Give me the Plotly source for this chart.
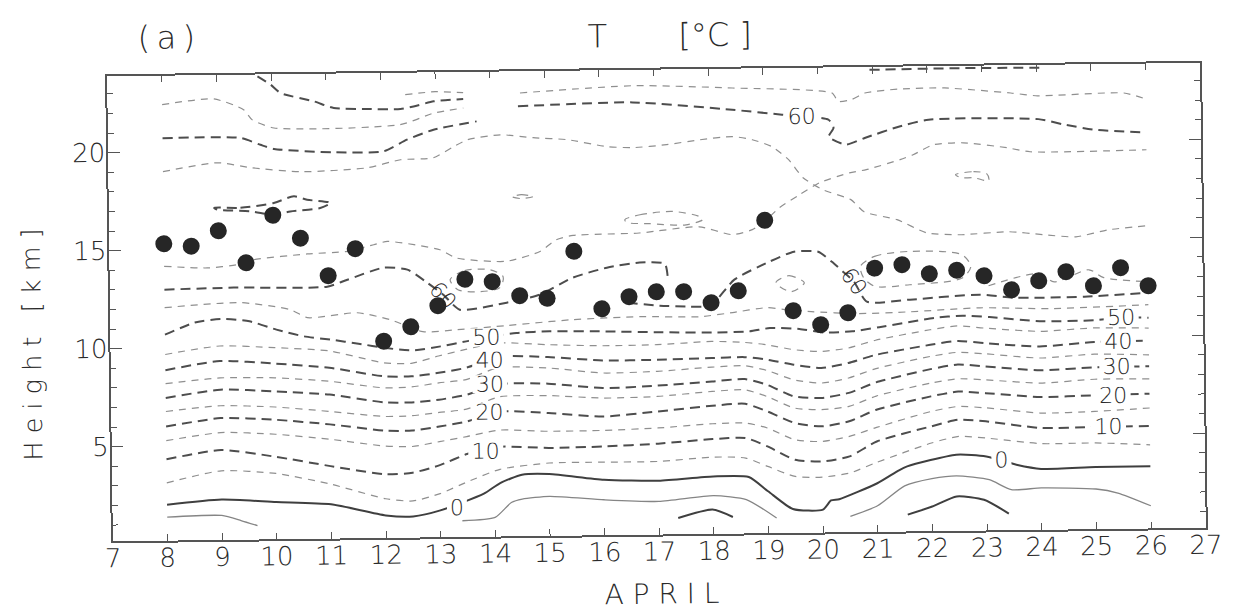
import plotly.graph_objects as go

# ---------------- tropopause heights (km), soundings twice a day ----------------
tp_day = [8, 8.5, 9, 9.5, 10, 10.5, 11, 11.5, 12, 12.5, 13, 13.5, 14, 14.5, 15, 15.5,
          16, 16.5, 17, 17.5, 18, 18.5, 19, 19.5, 20, 20.5, 21, 21.5, 22, 22.5, 23,
          23.5, 24, 24.5, 25, 25.5, 26]
tp_height = [15.32, 15.18, 15.95, 14.30, 16.71, 15.52, 13.59, 14.95, 10.21, 10.93,
             11.99, 13.32, 13.18, 12.45, 12.30, 14.68, 11.73, 12.33, 12.56, 12.55,
             11.97, 12.56, 16.14, 11.51, 10.78, 11.37, 13.63, 13.79, 13.31, 13.47,
             13.17, 12.44, 12.88, 13.33, 12.59, 13.50, 12.56]

# ---------------- isotherm heights (km) on common days, -5 .. -45 C ----------------
t_days = [8, 9, 10, 11, 12, 12.5, 13, 13.5, 14.1, 15, 16, 17, 18, 18.6, 19, 19.5,
          20, 20.5, 21, 22, 22.5, 23, 24, 25, 26]
iso_m05 = [3.12, 3.70, 3.53, 2.95, 2.17, 2.04, 2.40, 2.98, 3.60, 3.89, 3.90, 3.90, 4.09,
           4.02, 3.58, 3.05, 3.00, 3.19, 3.72, 4.67, 4.99, 4.89, 4.57, 4.57, 4.44]
iso_m10 = [4.32, 4.76, 4.38, 3.87, 3.42, 3.48, 3.85, 4.40, 4.75, 4.66, 4.70, 4.81, 5.01,
           5.04, 4.60, 3.90, 3.80, 4.04, 4.78, 5.52, 5.84, 5.74, 5.37, 5.39, 5.40]
iso_m15 = [5.27, 5.65, 5.53, 5.24, 4.86, 4.82, 5.05, 5.29, 5.60, 5.51, 5.52, 5.61, 5.79,
           5.81, 5.54, 4.92, 4.82, 5.06, 5.50, 6.28, 6.52, 6.43, 6.13, 6.18, 6.32]
iso_m20 = [5.99, 6.39, 6.27, 6.00, 5.65, 5.63, 5.82, 6.06, 6.55, 6.44, 6.23, 6.45, 6.71,
           6.79, 6.39, 5.78, 5.59, 5.83, 6.40, 7.05, 7.28, 7.18, 6.95, 7.00, 7.05]
iso_m25 = [6.76, 7.02, 6.92, 6.66, 6.37, 6.39, 6.54, 6.69, 7.30, 7.33, 7.17, 7.22, 7.44,
           7.50, 7.15, 6.54, 6.44, 6.59, 7.10, 7.73, 7.93, 7.86, 7.66, 7.82, 7.81]
iso_m30 = [7.45, 7.84, 7.72, 7.52, 7.09, 7.07, 7.19, 7.42, 7.95, 7.94, 7.68, 7.77, 7.95,
           8.05, 7.75, 7.13, 7.04, 7.28, 7.80, 8.44, 8.66, 8.54, 8.31, 8.43, 8.45]
iso_m35 = [8.18, 8.44, 8.41, 8.20, 7.83, 7.86, 8.05, 8.20, 8.80, 8.74, 8.45, 8.50, 8.68,
           8.73, 8.48, 7.98, 7.80, 8.04, 8.50, 9.09, 9.28, 9.19, 8.94, 9.10, 9.03]
iso_m40 = [8.87, 9.30, 9.14, 8.89, 8.42, 8.40, 8.56, 8.80, 9.35, 9.30, 9.09, 9.09, 9.14,
           9.17, 9.03, 8.75, 8.57, 8.81, 9.20, 9.68, 9.86, 9.73, 9.53, 9.72, 9.75]
iso_m45 = [9.67, 10.07, 9.95, 9.75, 9.11, 9.06, 9.42, 9.74, 10.05, 9.93, 9.84, 9.86, 9.99,
           9.92, 9.79, 9.52, 9.41, 9.57, 9.95, 10.45, 10.63, 10.50, 10.30, 10.44, 10.40]

# ---------------- 0 C and positive isotherms ----------------
iso_0_day = [8, 9, 10, 11, 12, 12.5, 13, 13.8, 14.1, 14.5, 15, 16, 17, 18, 18.65, 19,
             19.45, 20, 20.15, 20.3, 21, 21.4, 21.55, 22.45, 23, 23.55, 24, 25, 26]
iso_0_h = [2.00, 2.23, 2.07, 1.92, 1.32, 1.25, 1.54, 2.37, 2.90, 3.31, 3.33, 3.00, 2.92,
           3.10, 3.05, 2.31, 1.39, 1.34, 1.80, 1.86, 2.65, 3.30, 3.49, 4.06, 3.95, 3.51,
           3.28, 3.34, 3.34]
p05_a_day = [8, 9, 9.35, 9.65]
p05_a_h = [1.37, 1.42, 1.15, 0.88]
p05_b_day = [13.4, 14.0, 14.3, 14.5, 15, 16, 17, 18, 18.6, 19.15]
p05_b_h = [1.00, 1.15, 1.90, 2.07, 2.19, 1.98, 1.86, 2.12, 1.90, 0.94]
p05_c_day = [20.5, 21, 21.5, 22, 22.45, 23.05, 23.45, 24, 25, 25.4, 26]
p05_c_h = [0.98, 1.50, 2.50, 2.85, 2.98, 2.76, 2.24, 2.31, 2.22, 2.00, 1.33]
p10_a_day = [17.35, 17.98, 18.35]
p10_a_h = [1.00, 1.41, 1.02]
p10_b_day = [21.55, 22, 22.45, 22.95, 23.4]
p10_b_h = [1.03, 1.43, 1.93, 1.74, 1.02]

# ---------------- upper troposphere / tropopause region ----------------
m50_day = [8.0, 8.55, 9.04, 9.55, 10.04, 10.54, 11.04, 11.54, 12.04, 12.54, 13.04, 13.51,
           13.82, 14.43, 15.04, 16.06, 17.07, 18.08, 18.69, 19.07, 19.61, 20.06, 20.58,
           21.07, 22.08, 22.6, 23.09, 24.06, 25.0, 25.5, 26.0]
m50_h = [10.68, 11.28, 11.45, 11.31, 10.87, 10.51, 10.32, 10.10, 9.86, 9.72, 9.91, 10.15,
         10.31, 10.55, 10.61, 10.57, 10.49, 10.45, 10.48, 10.64, 10.57, 10.38, 10.42,
         10.61, 11.05, 11.15, 11.06, 10.81, 10.83, 10.94, 10.93]
m55_day = [8.0, 9.39, 10.30, 10.61, 11.52, 12.13, 12.72, 13.35, 14.26, 15.46, 16.69,
           17.78, 18.39, 19.01, 19.39, 19.83, 20.67, 21.64, 22.92, 24.19, 26.0]
m55_h = [12.06, 12.27, 11.88, 11.46, 11.68, 11.30, 10.67, 10.75, 10.93, 11.19, 11.30,
         11.26, 11.45, 11.68, 11.56, 11.45, 11.32, 11.38, 11.54, 11.45, 11.59]
m60a_day = [8.0, 9.27, 10.98, 11.35, 12.01, 12.45, 12.81, 13.10, 13.40, 14.26, 14.87,
            15.47, 16.10, 16.70, 17.16, 17.21]
m60a_h = [12.98, 13.04, 13.03, 13.37, 13.96, 13.85, 13.17, 12.55, 11.77, 12.10, 12.49,
          13.33, 13.82, 14.06, 13.99, 13.37]
m60b_day = [16.47, 17.06, 17.61, 17.99, 18.43, 19.07, 19.53, 19.97, 20.22, 20.42, 20.62,
            20.85, 21.64, 22.92, 23.55, 24.83, 26.0]
m60b_h = [12.02, 11.85, 11.78, 11.82, 13.13, 14.02, 14.52, 14.50, 13.98, 13.47, 12.95,
          11.92, 12.00, 12.21, 12.03, 12.04, 12.20]
m65a_day = [8.0, 8.79, 9.35, 9.64, 10.62, 11.35, 11.84, 12.09, 13.05, 13.35, 14.26, 14.88,
            15.18, 15.49, 16.70, 17.80, 18.40, 18.77, 19.03, 19.27, 19.64, 20.01, 20.56,
            20.87, 21.49, 21.73, 22.10, 22.65, 23.45, 23.87, 26.0]
m65a_h = [14.17, 14.06, 14.21, 14.45, 14.71, 14.82, 15.14, 15.30, 14.84, 14.41, 14.21,
          14.69, 15.28, 15.49, 15.57, 15.85, 15.43, 15.67, 16.17, 16.77, 17.42, 18.02,
          18.51, 18.66, 19.15, 19.39, 19.89, 19.97, 19.69, 19.47, 19.50]
m65b_day = [8.0, 9.0, 9.61, 10.52, 11.74, 12.35, 12.95, 13.32, 13.58, 14.18, 14.78, 15.40,
            16.13, 16.60, 17.22, 17.83, 18.43, 18.79, 19.15, 19.45, 19.71, 20.07, 20.58,
            20.82, 21.42, 21.96, 22.56, 23.47, 24.09, 24.69, 25.29, 26.0]
m65b_h = [19.00, 19.42, 19.15, 18.91, 19.07, 19.46, 19.54, 20.09, 20.44, 20.67, 20.50,
          20.38, 20.00, 19.93, 20.06, 20.29, 20.43, 20.26, 19.89, 19.22, 18.29, 17.66,
          17.14, 16.51, 16.09, 15.40, 15.28, 15.40, 15.23, 15.10, 15.44, 15.62]

# ---------------- lower stratosphere ----------------
m60u_a_day = [8.0, 9.43, 9.79, 10.04, 11.13, 12.04, 12.47, 12.96, 13.75]
m60u_a_h = [20.71, 20.67, 20.31, 20.09, 19.88, 19.90, 20.48, 20.97, 21.37]
m60u_b_day = [14.51, 16.61, 18.43, 19.34, 19.70, 20.19, 20.28, 20.19, 20.50, 20.86, 21.47,
              22.02, 24.03, 24.51, 25.06, 26.0]
m60u_b_h = [22.11, 22.24, 21.80, 21.52, 21.43, 21.23, 20.82, 20.36, 19.95, 20.29, 20.83,
            21.17, 21.13, 20.83, 20.55, 20.38]
m55u_a_day = [8.0, 8.95, 9.49, 9.64, 10.04, 12.35, 12.97, 13.51]
m55u_a_h = [22.42, 22.68, 22.11, 21.60, 21.16, 21.25, 21.82, 22.06]
m55u_b_day = [14.55, 16.62, 18.44, 20.26, 20.37, 20.61, 20.86, 21.47, 22.32, 23.53, 24.02,
              25.60, 26.0]
m55u_b_h = [22.79, 23.09, 22.91, 22.59, 22.16, 22.24, 22.57, 22.75, 22.78, 22.48, 22.32,
            22.41, 22.09]
m55u_c_day = [12.45, 13.0, 13.51]
m55u_c_h = [22.78, 22.91, 22.84]
m50u_a_day = [9.75, 9.99, 10.17, 10.78, 11.14, 11.75, 12.36, 12.60, 12.97, 13.51]
m50u_a_h = [23.80, 23.37, 22.94, 22.49, 22.14, 22.07, 22.05, 22.17, 22.42, 22.52]
m50u_b_day = [20.95, 22.5, 24.15]
m50u_b_h = [23.75, 23.78, 23.75]

# ---------------- closed contours ----------------
loop_a_day = [8.93, 9.41, 10.02, 10.39, 10.63, 11.06, 10.87, 10.32, 10.02, 9.60, 8.99, 8.93]
loop_a_h = [17.12, 17.11, 17.33, 17.66, 17.48, 17.30, 17.05, 16.89, 16.73, 16.92, 17.03, 17.12]
loop_b_day = [16.44, 16.72, 17.32, 17.80, 17.86, 17.56, 16.89, 16.47, 16.44]
loop_b_h = [16.26, 16.50, 16.65, 16.38, 16.21, 15.96, 16.04, 16.12, 16.26]
loop_c_day = [14.38, 14.55, 14.77, 14.55, 14.38]
loop_c_h = [17.50, 17.60, 17.50, 17.40, 17.50]
loop_d_day = [22.5, 22.83, 23.07, 23.11, 22.83, 22.6, 22.5]
loop_d_h = [18.35, 18.49, 18.38, 18.02, 18.18, 18.19, 18.35]
loop_e_day = [13.23, 13.5, 13.96, 14.2, 14.14, 13.78, 13.37, 13.23]
loop_e_h = [13.31, 13.76, 13.79, 13.43, 12.87, 12.68, 12.79, 13.31]
loop_f_day = [20.74, 21.0, 21.64, 22.6, 22.76, 22.6, 21.64, 21.0, 20.8, 20.74]
loop_f_h = [13.73, 14.23, 14.46, 14.26, 13.66, 13.07, 12.76, 12.70, 13.13, 13.73]
loop_g_day = [19.19, 19.43, 19.71, 19.47, 19.19]
loop_g_h = [12.95, 13.30, 12.93, 12.48, 12.95]
wig_day = [23.08, 24.01, 24.28, 24.92, 25.19, 26.0]
wig_h = [12.66, 13.24, 12.82, 13.41, 13.00, 12.77]

# contour labels: text, day, height, angle
lab_text = ["0", "0", "10", "10", "20", "20", "30", "30", "40", "40", "50", "50", "60", "60", "60"]
lab_day = [13.3, 23.28, 13.85, 25.24, 13.92, 25.34, 13.93, 25.41, 13.93, 25.45, 13.88, 25.5,
           19.70, 13.10, 20.62]
lab_h = [1.67, 3.78, 4.51, 5.39, 6.50, 6.97, 7.93, 8.48, 9.20, 9.72, 10.33, 10.94,
         21.43, 12.50, 12.95]
lab_angle = [0, 0, 0, 0, 0, 0, 0, 0, 0, 0, 0, 0, 0, 50, 55]

day_ticks = list(range(7, 28))
height_ticks = [5, 10, 15, 20]

# ---------------- styles ----------------
INK = "#555555"
TEXT = "#2a2a2a"
FONT = "DejaVu Sans"
WEIGHT = 200
NB = "\u00a0"
THIN_SP = "\u2009"
THICK = dict(color="#4d4d4d", width=2.0, dash="10px,6px")
THIN = dict(color="#8f8f8f", width=1.2, dash="7px,6px")
SOLID_THICK = dict(color="#3f3f3f", width=2.0)
SOLID_THIN = dict(color="#858585", width=1.3)

fig = go.Figure()


def iso(x, y, style, smooth=0.6):
    fig.add_trace(go.Scatter(x=x, y=y, mode="lines", line=dict(**style, shape="spline",
                                                               smoothing=smooth),
                             hoverinfo="skip", showlegend=False))


# lower troposphere
iso(iso_0_day, iso_0_h, SOLID_THICK)
iso(p05_a_day, p05_a_h, SOLID_THIN)
iso(p05_b_day, p05_b_h, SOLID_THIN)
iso(p05_c_day, p05_c_h, SOLID_THIN)
iso(p10_a_day, p10_a_h, SOLID_THICK)
iso(p10_b_day, p10_b_h, SOLID_THICK)
for k, hts in enumerate([iso_m05, iso_m10, iso_m15, iso_m20, iso_m25, iso_m30, iso_m35,
                         iso_m40, iso_m45]):
    iso(t_days, hts, THIN if k % 2 == 0 else THICK)

# upper troposphere
iso(m50_day, m50_h, THICK)
iso(m55_day, m55_h, THIN)
iso(m60a_day, m60a_h, THICK)
iso(m60b_day, m60b_h, THICK)
iso(m65a_day, m65a_h, THIN)
iso(m65b_day, m65b_h, THIN)

# stratosphere
iso(m60u_a_day, m60u_a_h, THICK)
iso(m60u_b_day, m60u_b_h, THICK)
iso(m55u_a_day, m55u_a_h, THIN)
iso(m55u_b_day, m55u_b_h, THIN)
iso(m55u_c_day, m55u_c_h, THIN)
iso(m50u_a_day, m50u_a_h, THICK)
iso(m50u_b_day, m50u_b_h, THICK)

# closed contours
iso(loop_a_day, loop_a_h, THICK, 0.8)
for lx, ly in [(loop_b_day, loop_b_h), (loop_c_day, loop_c_h), (loop_d_day, loop_d_h),
               (loop_e_day, loop_e_h), (loop_f_day, loop_f_h), (loop_g_day, loop_g_h),
               (wig_day, wig_h)]:
    iso(lx, ly, THIN, 0.8)

# tropopause
fig.add_trace(go.Scatter(x=tp_day, y=tp_height, mode="markers",
                         marker=dict(size=17, color="#262626", line=dict(width=0)),
                         hoverinfo="skip", showlegend=False))

# contour labels; a small white box opens a gap in the line under the text
for t, xd, yh, ang in zip(lab_text, lab_day, lab_h, lab_angle):
    boxed = ang == 0
    fig.add_annotation(x=xd, y=yh, xref="x", yref="y", text=t, showarrow=False,
                       xanchor="center", yanchor="middle", textangle=ang,
                       width=15 * len(t) + 4 if boxed else None,
                       height=17 if boxed else None,
                       bgcolor="white" if boxed else "rgba(0,0,0,0)",
                       borderpad=0,
                       font=dict(family=FONT, size=22, color=TEXT, weight=WEIGHT))


def paper_text(x, y, text, size, angle=0):
    fig.add_annotation(x=x, y=y, xref="paper", yref="paper", text=text, showarrow=False,
                       xanchor="center", yanchor="middle", textangle=angle,
                       font=dict(family=FONT, size=size, color=TEXT, weight=WEIGHT))


# titles
paper_text(0.5155, 1.074, "T" + NB * 7 + "[°C" + NB + "]", 32)
paper_text(0.0543, 1.081, "(" + THIN_SP + "a" + THIN_SP + ")", 32)
paper_text(-0.0714, 0.425, NB.join("Height") + NB * 3 + NB.join("[km]"), 25.5, -90)
paper_text(0.502, -0.129, NB.join("APRIL"), 28)

axis_common = dict(showline=True, linecolor=INK, linewidth=1.5, mirror="ticks",
                   ticks="inside", tickcolor=INK, tickwidth=1.2, showgrid=False,
                   zeroline=False,
                   tickfont=dict(family=FONT, size=26, color=TEXT, weight=WEIGHT))

fig.update_xaxes(range=[7, 27], tickmode="array", tickvals=day_ticks,
                 ticktext=[str(d) for d in day_ticks], ticklen=7, ticklabelstandoff=-7,
                 **axis_common)
fig.update_yaxes(range=[0.17, 23.9], tickmode="array", tickvals=height_ticks, ticklen=12,
                 ticklabelstandoff=-4,
                 minor=dict(ticks="inside", ticklen=6, dtick=1, tick0=0, tickcolor=INK,
                            tickwidth=1.2),
                 **axis_common)

fig.update_layout(width=1244, height=613, margin=dict(l=110, r=41, t=70, b=78),
                  paper_bgcolor="white", plot_bgcolor="white", showlegend=False)

# the scanned sheet sits slightly tilted; turn the figure by the same small angle
tilt_js = ("document.body.style.margin='0';"
           "var gd=document.getElementById('{plot_id}');"
           "gd.style.transformOrigin='622px 306.5px';"
           "gd.style.transform='rotate(-0.708deg)';")
fig.write_html("out.html", post_script=tilt_js)
